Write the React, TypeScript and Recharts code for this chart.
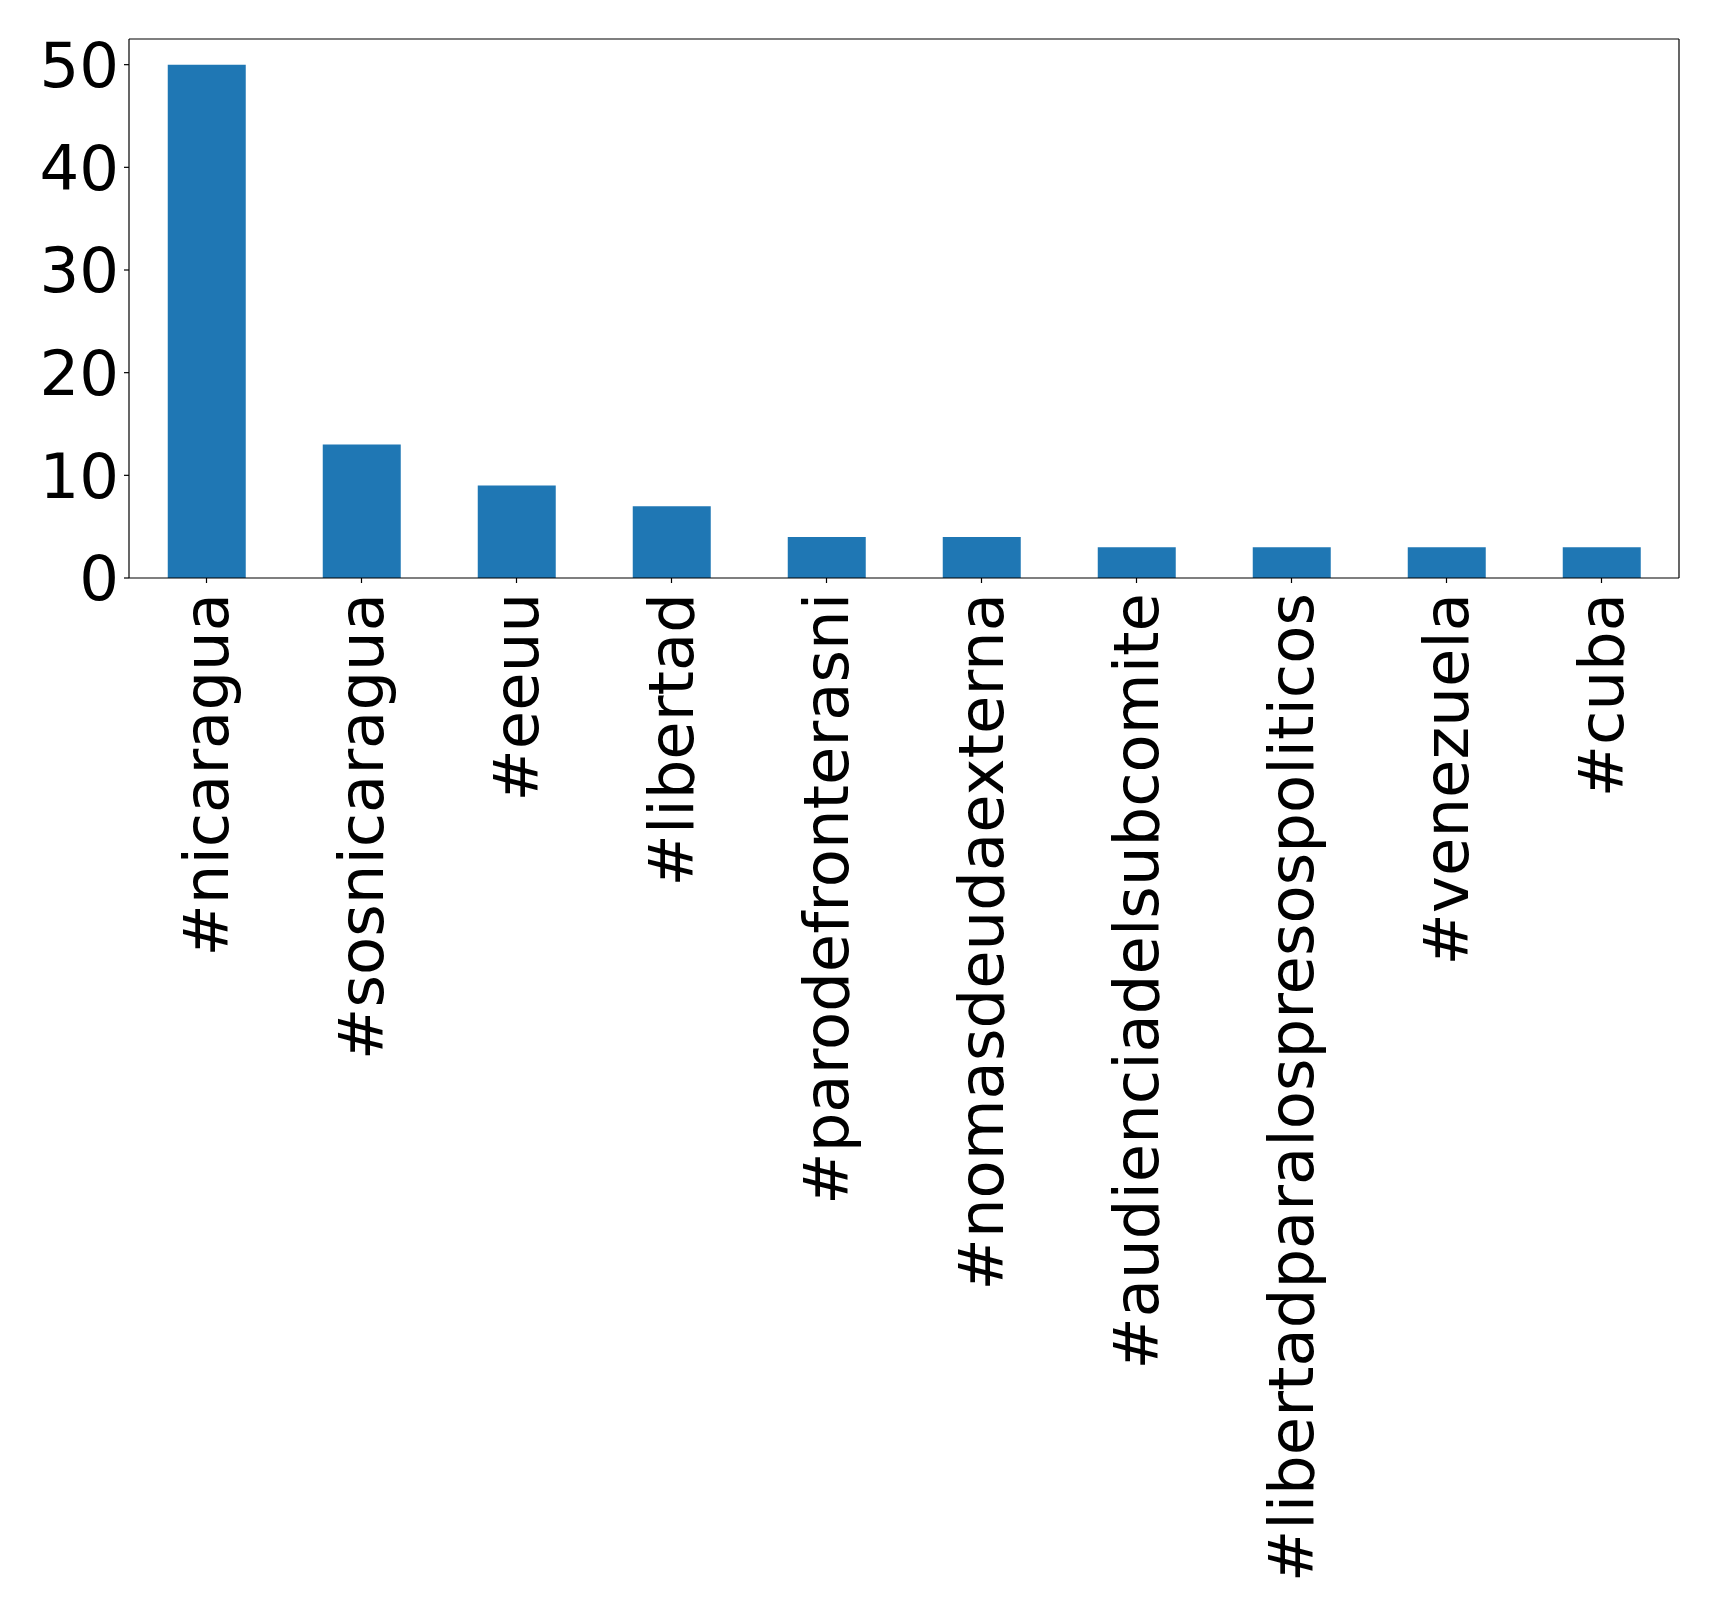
import React from "react";
import { BarChart, Bar, XAxis, YAxis } from "recharts";

const hashtags = [
  "#nicaragua",
  "#sosnicaragua",
  "#eeuu",
  "#libertad",
  "#parodefronterasni",
  "#nomasdeudaexterna",
  "#audienciadelsubcomite",
  "#libertadparalospresospoliticos",
  "#venezuela",
  "#cuba",
];
const counts = [50, 13, 9, 7, 4, 4, 3, 3, 3, 3];
const yTicks = [0, 10, 20, 30, 40, 50];

const data = hashtags.map((tag, i) => ({ tag, count: counts[i] }));

const FONT = "'DejaVu Sans', sans-serif";
const LINE = { stroke: "#000", strokeWidth: 1.2 };

// rotated labels, read bottom-to-top, last letter next to the axis
const RotTick = ({ x, y, payload }: any) => (
  <text
    x={0}
    y={0}
    dy="0.35em"
    transform={`translate(${x},${y}) rotate(-90)`}
    textAnchor="end"
    fontFamily={FONT}
    fontSize={62.5}
    fill="#000"
  >
    {payload.value}
  </text>
);

export default function App() {
  return (
    <div style={{ position: "absolute", left: 0, top: 0, background: "#fff" }}>
      <BarChart
        width={1719}
        height={1617}
        data={data}
        margin={{ top: 38, right: 39, left: 0, bottom: 0 }}
        barCategoryGap="25%"
      >
        <XAxis
          dataKey="tag"
          interval={0}
          height={1039}
          tick={<RotTick />}
          tickSize={5}
          tickMargin={10}
          axisLine={LINE}
          tickLine={LINE}
        />
        <XAxis
          xAxisId="top"
          orientation="top"
          dataKey="tag"
          height={1}
          tick={false}
          tickLine={false}
          axisLine={LINE}
        />
        <YAxis
          domain={[0, 52.5]}
          ticks={yTicks}
          width={129}
          tickSize={5}
          tickMargin={5}
          tick={{ fontFamily: FONT, fontSize: 62.5, fill: "#000" }}
          axisLine={LINE}
          tickLine={LINE}
        />
        <YAxis
          yAxisId="right"
          orientation="right"
          width={1}
          tick={false}
          tickLine={false}
          axisLine={LINE}
        />
        <Bar dataKey="count" fill="#1f77b4" isAnimationActive={false} />
      </BarChart>
    </div>
  );
}
